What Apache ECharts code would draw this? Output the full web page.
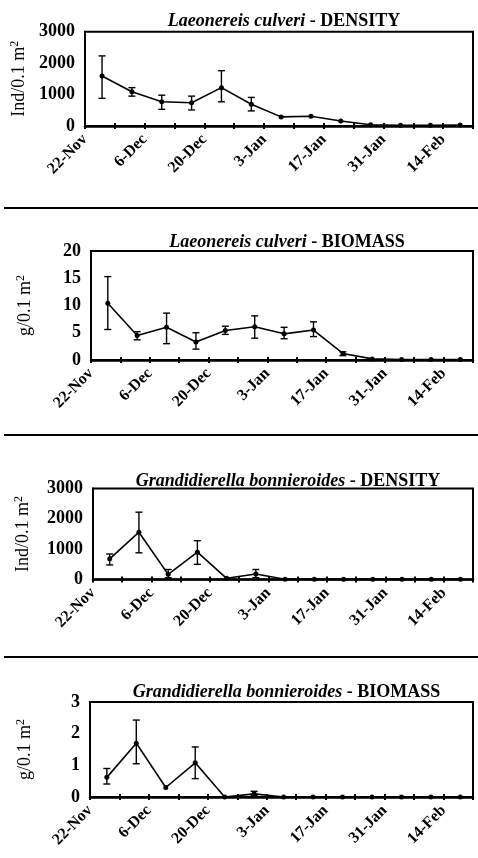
<!DOCTYPE html>
<html><head><meta charset="utf-8">
<script src="https://cdn.jsdelivr.net/npm/echarts@6/dist/echarts.min.js"></script>
<style>html,body{margin:0;padding:0;background:#fff}#c{width:478px;height:858px}</style>
</head><body><div id="c"></div>
<script>
// ---- data ----
const sampleDates = ['26-Nov','3-Dec','10-Dec','17-Dec','24-Dec','31-Dec','7-Jan','14-Jan','21-Jan','28-Jan','4-Feb','11-Feb','18-Feb'];
const xTickLabels = ['22-Nov','6-Dec','20-Dec','3-Jan','17-Jan','31-Jan','14-Feb'];

const lcDensity     = [1590, 1090, 770, 740, 1220, 690, 290, 310, 160, 40, 20, 20, 30];
const lcDensityLow  = [880, 950, 530, 510, 770, 480, null, null, null, null, null, null, null];
const lcDensityHigh = [2230, 1220, 980, 950, 1760, 910, null, null, null, null, null, null, null];

const lcBiomass     = [10.4, 4.5, 6.0, 3.3, 5.4, 6.1, 4.8, 5.5, 1.2, 0.2, 0.1, 0.1, 0.1];
const lcBiomassLow  = [5.6, 3.7, 3.0, 2.0, 4.7, 4.0, 3.9, 4.3, 0.8, null, null, null, null];
const lcBiomassHigh = [15.3, 5.2, 8.6, 5.0, 6.2, 8.1, 6.0, 7.0, 1.5, null, null, null, null];

const gbDensity     = [680, 1560, 170, 900, 40, 180, 10, 10, 10, 10, 10, 10, 10];
const gbDensityLow  = [480, 880, 60, 500, null, 60, null, null, null, null, null, null, null];
const gbDensityHigh = [840, 2220, 330, 1280, null, 330, null, null, null, null, null, null, null];

const gbBiomass     = [0.62, 1.7, 0.3, 1.08, 0, 0.1, 0, 0, 0, 0, 0, 0, 0];
const gbBiomassLow  = [0.41, 1.05, null, 0.58, null, 0.05, null, null, null, null, null, null, null];
const gbBiomassHigh = [0.9, 2.43, null, 1.58, null, 0.18, null, null, null, null, null, null, null];

const panelTitles = [
  ['Laeonereis culveri', ' - DENSITY'],
  ['Laeonereis culveri', ' - BIOMASS'],
  ['Grandidierella bonnieroides', ' - DENSITY'],
  ['Grandidierella bonnieroides', ' - BIOMASS']
];
const yNames = ['Ind/0.1 m', 'g/0.1 m', 'Ind/0.1 m', 'g/0.1 m'];

// ---- helpers ----
const monthStart = {Nov: -22, Dec: 8, Jan: 39, Feb: 70};
function dayOf(s){ const [d, m] = s.split('-'); return monthStart[m] + Number(d); }
const xs = sampleDates.map(dayOf);

const FONT = "'Liberation Serif', 'Times New Roman', serif";

const panels = [
  {vals: lcDensity, lo: lcDensityLow, hi: lcDensityHigh, max: 3000, interval: 1000, left: 85, top: 31.7, height: 94.3, titleTop: 7, nameGap: 52},
  {vals: lcBiomass, lo: lcBiomassLow, hi: lcBiomassHigh, max: 20, interval: 5, left: 91, top: 251, height: 109, titleTop: 228, nameGap: 56},
  {vals: gbDensity, lo: gbDensityLow, hi: gbDensityHigh, max: 3000, interval: 1000, left: 93, top: 488.5, height: 91, titleTop: 467, nameGap: 60},
  {vals: gbBiomass, lo: gbBiomassLow, hi: gbBiomassHigh, max: 3, interval: 1, left: 90, top: 702, height: 95, titleTop: 678, nameGap: 55}
];

const grids = [], xAxes = [], yAxes = [], series = [], titles = [];
panels.forEach((p, i) => {
  grids.push({left: p.left, right: 5, top: p.top, height: p.height, show: true,
    borderColor: '#000', borderWidth: 2, backgroundColor: 'transparent'});
  const xBase = {gridIndex: i, type: 'value', min: 0, max: 91, interval: 7, splitLine: {show: false}};
  xAxes.push(Object.assign({}, xBase, {
    position: 'bottom',
    axisLine: {show: true, lineStyle: {color: '#000', width: 2.5}},
    axisTick: {show: true, inside: false, length: 3, lineStyle: {color: '#000', width: 2}},
    axisLabel: {show: true, rotate: 45, margin: 11, color: '#000', fontFamily: FONT, fontSize: 16, fontWeight: 'bold',
      showMinLabel: true, showMaxLabel: true,
      formatter: v => (v % 14 === 0 && xTickLabels[v / 14]) ? xTickLabels[v / 14] : ''}
  }));
  xAxes.push(Object.assign({}, xBase, {
    position: 'bottom',
    axisLine: {show: false},
    axisTick: {show: true, inside: true, length: 3, lineStyle: {color: '#000', width: 2}},
    axisLabel: {show: false}
  }));
  yAxes.push({gridIndex: i, type: 'value', min: 0, max: p.max, interval: p.interval,
    splitLine: {show: false},
    axisLine: {show: true, lineStyle: {color: '#000', width: 2}},
    axisTick: {show: false},
    axisLabel: {color: '#000', fontFamily: FONT, fontSize: 18, fontWeight: 'bold', margin: 10,
      formatter: v => String(v)},
    name: yNames[i] + '{s|2}', nameLocation: 'middle', nameGap: p.nameGap, nameRotate: 90,
    nameTextStyle: {color: '#000', fontFamily: FONT, fontSize: 18,
      rich: {s: {fontFamily: FONT, fontSize: 12, verticalAlign: 'top', padding: [0, 0, 8, 0], color: '#000'}}}
  });
  series.push({type: 'line', xAxisIndex: 2 * i, yAxisIndex: i,
    data: xs.map((x, k) => [x, p.vals[k]]),
    symbol: 'circle', symbolSize: 5, showSymbol: true,
    lineStyle: {color: '#000', width: 1.6}, itemStyle: {color: '#000'},
    animation: false, z: 3});
  const errData = [];
  xs.forEach((x, k) => { if (p.lo[k] != null && p.hi[k] != null) errData.push([x, p.lo[k], p.hi[k]]); });
  series.push({type: 'custom', xAxisIndex: 2 * i, yAxisIndex: i, data: errData, animation: false, z: 4,
    renderItem: (params, api) => {
      const x = api.value(0), lo = api.value(1), hi = api.value(2);
      const a = api.coord([x, hi]), b = api.coord([x, lo]);
      const w = 3.5, st = {stroke: '#000', lineWidth: 1.4};
      return {type: 'group', children: [
        {type: 'line', shape: {x1: a[0], y1: a[1], x2: b[0], y2: b[1]}, style: st},
        {type: 'line', shape: {x1: a[0] - w, y1: a[1], x2: a[0] + w, y2: a[1]}, style: st},
        {type: 'line', shape: {x1: b[0] - w, y1: b[1], x2: b[0] + w, y2: b[1]}, style: st}
      ]};
    }});
  titles.push({text: '{i|' + panelTitles[i][0] + '}{b|' + panelTitles[i][1] + '}',
    left: (p.left + 473) / 2, top: p.titleTop, textAlign: 'center',
    textStyle: {rich: {
      i: {fontFamily: FONT, fontSize: 18, fontStyle: 'italic', color: '#000'},
      b: {fontFamily: FONT, fontSize: 18, fontWeight: 'bold', color: '#000'}}}});
});

const sepLines = [208, 435, 657].map(y => ({type: 'line', shape: {x1: 4, y1: y, x2: 478, y2: y},
  style: {stroke: '#000', lineWidth: 2}}));

const chart = echarts.init(document.getElementById('c'), null, {renderer: 'canvas'});
chart.setOption({
  animation: false,
  backgroundColor: '#fff',
  title: titles,
  grid: grids,
  xAxis: xAxes,
  yAxis: yAxes,
  series: series,
  graphic: sepLines
});
</script>
</body></html>
